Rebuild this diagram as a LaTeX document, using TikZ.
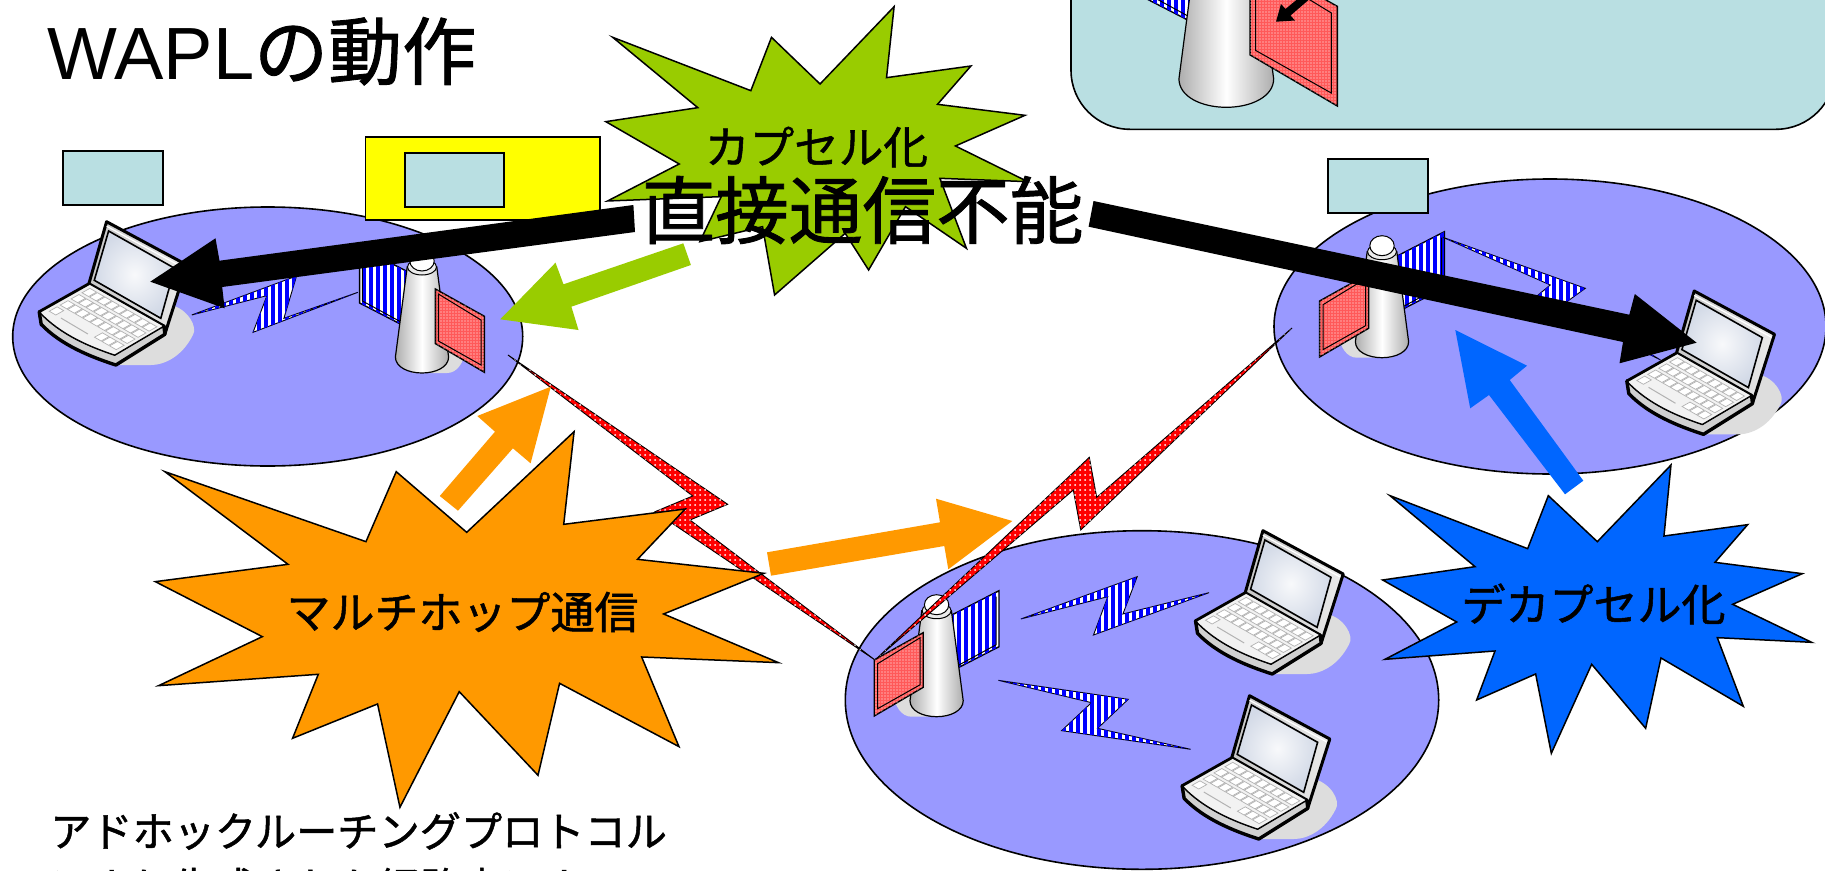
\documentclass[tikz,border=0pt]{standalone}
\usepackage{fontspec}
\setmainfont{Liberation Sans}
\newfontfamily\cjk[FakeBold=1.2]{Noto Sans CJK JP}
\usetikzlibrary{patterns.meta,shapes.geometric}
\definecolor{peri}{HTML}{9999FF}
\definecolor{teal1}{HTML}{B9DFE2}
\definecolor{grn}{HTML}{99CC00}
\definecolor{org}{HTML}{FF9900}
\definecolor{blu}{HTML}{0066FF}
\definecolor{yel}{RGB}{255,255,0}
\definecolor{shadowg}{HTML}{DDDDDD}
\definecolor{scrin}{HTML}{F8F9FB}
\definecolor{scrout}{HTML}{D3DAE7}
\tikzset{
  cell/.style={ellipse,draw=black,line width=1.6pt,fill=peri},
  tagbox/.style={draw=black,line width=1.8pt,fill=teal1},
  starshape/.style={draw=black,line width=1.5pt,line join=miter},
  redbolt/.style={draw=black,line width=.9pt,fill=red,postaction={pattern={Dots[distance=5pt,radius=1pt]},pattern color=white}},
  blubolt/.style={draw=black,line width=.9pt,fill=white,postaction={pattern={Lines[angle=90,distance=7pt,line width=3.6pt]},pattern color=blue}},
  lab/.style={inner sep=0pt,font=\cjk},
  laptop/.pic={
    \fill[shadowg] (55,-60) .. controls (72,-56) and (82,-38) .. (77,-30) .. controls (66,-8) and (48,0) .. (35,0) -- (0,0) -- cycle;
    % lid
    \shade[left color=black!22,right color=black!8,draw=black,line width=3pt,line join=round] (-27,-81.3) -- (-9.3,-143.3) -- (71,-100) -- (49,-31) -- (48,-39) -- cycle;
    \draw[line width=1.2pt,white] (-9.3,-138.8) -- (68,-97);
    \shade[inner color=scrin,outer color=scrout,draw=black,line width=1.6pt] (-21.6,-84.7) -- (-7.3,-134) -- (58.8,-96.7) -- (44.9,-46.7) -- cycle;
    % base
    \draw[line width=1.8pt,line join=round,fill=black!18] (-76.7,-53.3) .. controls (-76.5,-48) and (-75.5,-44) .. (-74.7,-40.7) .. controls (-55,-20) and (-25,-8) .. (0,0) -- (49,-30.7) -- (48,-39) -- (-1.2,-10) .. controls (-25,-18) and (-55,-30) .. cycle;
    \draw[line width=1pt,fill=black!5] (-76.7,-53.3) .. controls (-55,-30) and (-25,-18) .. (-1.2,-10) -- (48,-39) -- (-27,-81.3) -- cycle;
    \draw[line width=3.4pt,line join=round,line cap=round] (-76.7,-53.3) -- (-74.7,-40.7) .. controls (-55,-20) and (-25,-8) .. (0,0) -- (49,-30.7) -- (48,-39);
    \draw[line width=2.8pt,line cap=round] (-76.7,-53.3) -- (-27,-81.3);
    % keys
    \foreach \u in {.06,.16,.26,.36,.46,.56,.66,.76,.86}
      \foreach \v in {.33,.55,.77}{
        \pgfmathsetmacro\px{-76.7+75.5*\u+49.7*\v}
        \pgfmathsetmacro\py{-53.3+43.3*\u-28*\v}
        \draw[black!30,fill=white,line width=.7pt] (\px,\py) -- ++(6.6,3.8) -- ++(7.9,-4.4) -- ++(-6.6,-3.8) -- cycle;
      }
    \foreach \u in {.06,.66,.76,.86}{
        \pgfmathsetmacro\px{-76.7+75.5*\u+49.7*.11}
        \pgfmathsetmacro\py{-53.3+43.3*\u-28*.11}
        \draw[black!30,fill=white,line width=.7pt] (\px,\py) -- ++(6.6,3.8) -- ++(7.9,-4.4) -- ++(-6.6,-3.8) -- cycle;
    }
    \draw[black!30,line width=1pt] (-55,-47) -- (-28,-31);
  },
  apshadow/.pic={
    \fill[shadowg] (-44,-25) .. controls (-42,-10) and (-35,0) .. (-25,0) -- (10,0) -- (10,-20) -- cycle;
  },
  accesspoint/.pic={
    % rear panel
    \draw[line width=1.4pt,fill=white,postaction={pattern={Lines[angle=90,distance=7pt,line width=3.6pt]},pattern color=blue}] (62.4,-126) -- (62.4,-70) -- (8,-42) -- (8,-98) -- cycle;
    \draw[line width=1pt] (59.6,-120) -- (59.6,-72) -- (10,-45);
    % tower
    \shade[left color=black!32,right color=black!32,middle color=white,draw=black,line width=1.2pt]
      (-26.6,-16) .. controls (-26.6,-6) and (-14,0) .. (0,0) .. controls (14,0) and (26.6,-6) .. (26.6,-16) -- (14.8,-106) -- (-14.8,-106) -- cycle;
    \draw[line width=1pt,fill=black!8] (0,-106) ellipse[x radius=14.5,y radius=8];
    \draw[line width=1pt,fill=white] (0,-112) ellipse[x radius=12.2,y radius=10];
    % front panel
    \draw[line width=1.4pt,fill=red!65,postaction={pattern={Dots[distance=3pt,radius=.7pt]},pattern color=white}] (-62.4,-56.7) -- (-13.4,-84) -- (-13.4,-29.4) -- (-62.4,-.7) -- cycle;
    \draw[line width=1pt] (-59,-53) -- (-16.4,-79) -- (-16.4,-32) -- (-59,-8) -- cycle;
  }
}
\begin{document}
\begin{tikzpicture}[x=1pt,y=-1pt]
\clip (0,0) rectangle (1825,870);
\fill[white] (0,0) rectangle (1825,870);

% teal box on top
\draw[fill=teal1,line width=1.6pt,rounded corners=59pt] (1071,-120) rectangle (1835,129.3);

% cells
\node[cell,minimum width=510pt,minimum height=259pt,inner sep=0pt] (cellA) at (267.7,336.5) {};
\node[cell,minimum width=552pt,minimum height=295pt,inner sep=0pt] (cellB) at (1550,326.5) {};
\node[cell,minimum width=593.4pt,minimum height=338.6pt,inner sep=0pt] (cellC) at (1142,700) {};

% yellow and tag boxes
\node[draw=black,line width=1.8pt,fill=yel,minimum width=234.6pt,minimum height=82.7pt,inner sep=0pt] (yellowbox) at (482.7,178.6) {};
\node[tagbox,minimum width=100pt,minimum height=54pt,inner sep=0pt] (tagA) at (113.3,177.7) {};
\node[tagbox,minimum width=99pt,minimum height=54pt,inner sep=0pt] (tagB) at (454.5,179.7) {};
\node[tagbox,minimum width=99.7pt,minimum height=54pt,inner sep=0pt] (tagC) at (1378.2,185.7) {};

% access points
\pic[xscale=-1] at (422,373) {apshadow};
\pic at (1382,357.7) {apshadow};
\pic at (936.6,716.7) {apshadow};
\pic[xscale=-1] at (422,373) {accesspoint};
\pic at (1382,357.7) {accesspoint};
\pic at (936.6,716.7) {accesspoint};
\pic[xscale=-1,scale=1.78] at (1226.3,107.3) {accesspoint};

% small arrow on the top panel
\fill (1276,21.7) -- (1281,4) -- (1285.5,9) -- (1300,-3) -- (1312,-3) -- (1290.5,15.5) -- (1295,20.5) -- cycle;

% laptops
\pic at (115.9,365) {laptop};
\pic at (1703.5,434.3) {laptop};
\pic at (1272.2,674) {laptop};
\pic at (1258.8,839) {laptop};

% blue bolts
\begin{scope}[shift={(0,130)},xscale=0.3954,yscale=0.3333]
\path[blubolt] (485,555) -- (750,438) -- (718,565) -- (905,487) -- (640,607) -- (675,497) -- cycle;
\end{scope}
\begin{scope}[shift={(1050,0)},xscale=0.4943,yscale=0.3333]
\path[blubolt] (795,712) -- (1083,865) -- (1043,908) -- (1235,1080) -- (982,892) -- (1012,855) -- cycle;
\end{scope}
\begin{scope}[shift={(820,500)},xscale=0.4082,yscale=0.3333]
\path[blubolt] (492,357) -- (777,230) -- (742,342) -- (953,278) -- (670,405) -- (705,290) -- cycle;
\path[blubolt] (437,541) -- (755,598) -- (680,685) -- (908,748) -- (592,692) -- (665,608) -- cycle;
\end{scope}

% red bolts
\path[redbolt] (508,355) -- (727.7,504.3) -- (690,520) -- (875,660) -- (655,511.7) -- (692.7,496) -- cycle;
\path[redbolt] (875,660) -- (1089.3,457.3) -- (1096.7,497.3) -- (1292,328) -- (1080.7,530) -- (1073.3,490) -- cycle;

% green star
\begin{scope}[shift={(580,0)},xscale=0.3444,yscale=0.3333]
\path[starshape,fill=grn] (912,20) -- (890,233) -- (1135,198) -- (1038,313) -- (1292,346) -- (1090,438) -- (1300,545) -- (1045,535) -- (1122,745) -- (945,620) -- (838,810) -- (770,700) -- (565,885) -- (530,680) -- (348,725) -- (410,590) -- (80,603) -- (288,492) -- (75,365) -- (342,323) -- (95,112) -- (496,272) -- (556,112) -- (697,252) -- cycle;
\end{scope}
% orange star
\begin{scope}[shift={(140,420)},xscale=0.4146,yscale=0.3333]
\path[starshape,fill=org] (1047,35) -- (1022,313) -- (1315,267) -- (1200,418) -- (1505,460) -- (1263,582) -- (1540,728) -- (1210,711) -- (1300,980) -- (1012,790) -- (960,1066) -- (770,815) -- (627,1162) -- (573,852) -- (368,955) -- (430,763) -- (45,797) -- (295,650) -- (37,485) -- (357,433) -- (60,155) -- (545,365) -- (618,155) -- (788,337) -- cycle;
\end{scope}
% blue star
\begin{scope}[shift={(1370,450)},xscale=0.3333,yscale=0.3333]
\path[starshape,fill=blu] (903,45) -- (882,258) -- (1133,224) -- (1035,337) -- (1297,371) -- (1088,463) -- (1325,577) -- (1042,563) -- (1120,769) -- (873,624) -- (827,835) -- (665,643) -- (544,910) -- (497,672) -- (320,750) -- (375,603) -- (45,628) -- (260,516) -- (38,390) -- (315,350) -- (60,137) -- (473,296) -- (535,137) -- (682,275) -- cycle;
\end{scope}

% block arrows
\fill[grn] (500.2,319.3) -- (555.5,262.7) -- (563.5,284.3) -- (683.3,243.3) -- (690.9,265) -- (571.4,306.7) -- (578.5,330) -- cycle;
\fill[org] (550.8,386.7) -- (477.3,416) -- (495,431.7) -- (439.8,496) -- (458,510.7) -- (512.9,448.3) -- (530.6,463.3) -- cycle;
\fill[org] (1012.3,521) -- (936,498.7) -- (940,522.3) -- (767,552.3) -- (771,575.7) -- (944.3,546) -- (948.3,569.3) -- cycle;
\fill[blu] (1455.3,330) -- (1527,365.7) -- (1509.7,380) -- (1583.3,480.7) -- (1565,494.3) -- (1489,395) -- (1470.2,408.3) -- cycle;
\fill[black] (150.3,281.7) -- (215.5,238.3) -- (219.5,260.7) -- (633.4,205) -- (635,232) -- (222.2,287) -- (224.6,308.3) -- cycle;
\fill[black] (1696.6,342.7) -- (1634.8,294) -- (1629.3,314.7) -- (1093.5,201) -- (1088.6,226.7) -- (1623,342) -- (1619.5,363.3) -- cycle;

% texts
\node[inner sep=0pt,anchor=base west,font=\fontsize{74}{74}\selectfont] (title) at (47,79) {WAPL{\cjk の動作}};
\node[lab,font=\cjk\fontsize{44.6}{44.6}\selectfont] (capsule) at (816.5,147) {カプセル化};
\node[lab,font=\cjk\fontsize{73.6}{73.6}\selectfont] (nodirect) at (862.5,210) {直接通信不能};
\node[lab,font=\cjk\fontsize{44}{44}\selectfont] (multihop) at (462.5,612) {マルチホップ通信};
\node[lab,font=\cjk\fontsize{44}{44}\selectfont] (decap) at (1593.5,604) {デカプセル化};
\node[lab,anchor=west,font=\cjk\fontsize{41.2}{41.2}\selectfont] (body1) at (50,831) {アドホックルーチングプロトコル};
\node[lab,anchor=west,font=\cjk\fontsize{41.2}{41.2}\selectfont] (body2) at (50,887) {により生成された経路表による};
\end{tikzpicture}
\end{document}
